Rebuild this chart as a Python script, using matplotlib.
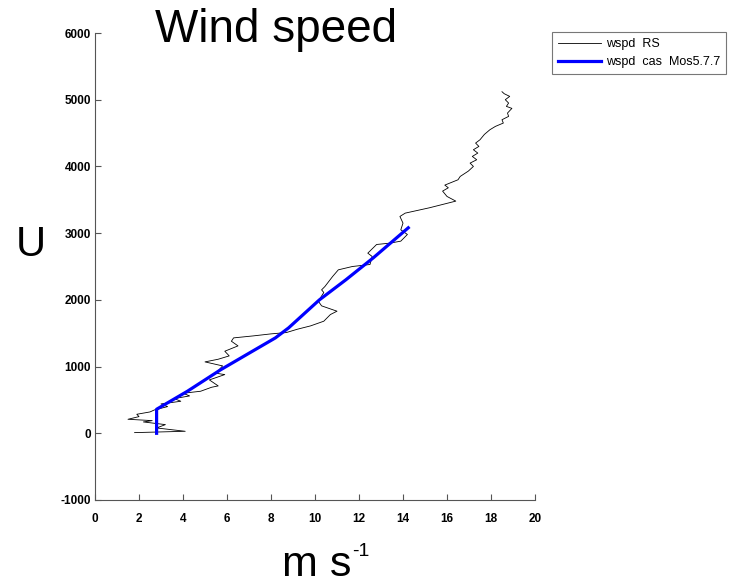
import matplotlib.pyplot as plt

plt.rcParams['font.family'] = ['Liberation Sans', 'DejaVu Sans']
plt.rcParams['axes.unicode_minus'] = False

# radiosonde profile: wind speed (m/s) vs height
rs_wspd = [1.8, 4.1, 2.8, 3.2, 2.2, 2.6, 1.5, 2.0, 1.9, 2.5,
           2.7, 3.3, 3.0, 3.9, 3.6, 4.3, 4.0, 4.8, 5.3, 5.6,
           5.2, 5.9, 5.5, 5.8, 5.0, 5.6, 6.1, 5.9, 6.5, 6.2,
           6.3, 7.2, 8.0, 8.7, 9.2, 9.8, 10.4, 10.7, 11.0, 10.3,
           10.15, 10.4, 10.3, 10.45, 10.8, 11.06, 11.7, 12.5, 12.6, 12.4,
           12.8, 13.4, 13.9, 14.2, 13.9, 14.0, 13.86, 14.1, 15.2, 16.4,
           16.0, 15.8, 16.06, 15.9, 16.2, 16.5, 16.6, 16.97, 17.2, 17.05,
           17.35, 17.15, 17.4, 17.2, 17.45, 17.3, 17.5, 17.7, 17.95, 18.2,
           18.56, 18.5, 18.8, 18.75, 18.95, 18.7, 18.8, 18.65, 18.85, 18.6,
           18.5]
rs_z = [10, 30, 80, 130, 170, 190, 210, 250, 285, 320,
        350, 400, 440, 480, 520, 560, 600, 630, 690, 710,
        800, 880, 900, 1010, 1070, 1110, 1160, 1230, 1310, 1380,
        1430, 1460, 1490, 1510, 1560, 1610, 1680, 1780, 1830, 1910,
        1980, 2110, 2150, 2200, 2350, 2450, 2500, 2530, 2650, 2700,
        2830, 2850, 2880, 2980, 3050, 3150, 3250, 3300, 3380, 3480,
        3550, 3630, 3680, 3720, 3760, 3800, 3850, 3930, 4000, 4050,
        4100, 4150, 4200, 4250, 4300, 4350, 4400, 4480, 4550, 4600,
        4650, 4700, 4750, 4800, 4870, 4900, 4950, 5000, 5050, 5090,
        5120]

# model profile
mod_wspd = [2.8, 2.8, 4.2, 5.7, 7.0, 8.2, 8.8, 10.2, 11.4, 12.65, 14.24]
mod_z = [0, 360, 630, 950, 1200, 1430, 1580, 2000, 2300, 2630, 3080]

W, H = 750, 584
fig = plt.figure(figsize=(7.5, 5.84), dpi=100)
ax = fig.add_axes([95 / W, 84 / H, 440 / W, 467 / H])

ax.plot(rs_wspd, rs_z, color='black', lw=0.6, label='wspd  RS')
ax.plot(mod_wspd, mod_z, color='#0000ff', lw=2.3, label='wspd  cas  Mos5.7.7')

ax.set_xlim(0, 20)
ax.set_ylim(-1000, 6000)
ax.set_xticks(range(0, 21, 2))
ax.set_yticks(range(-1000, 6001, 1000))
ax.tick_params(direction='in', length=4, labelsize=8.5, color='#555555', pad=3)
ax.tick_params(axis='x', pad=9)
for lbl in ax.get_xticklabels() + ax.get_yticklabels():
    lbl.set_fontweight('bold')
for s in ['top', 'right']:
    ax.spines[s].set_visible(False)
for s in ['left', 'bottom']:
    ax.spines[s].set_color('#555555')

# title / labels placed by hand like the original
fig.text(276 / W, 1 - 42 / H, 'Wind speed', fontsize=33, ha='center', va='baseline')
fig.text(31 / W, 1 - 245 / H, 'U', fontsize=30, ha='center', va='center')
fig.text(282 / W, 1 - 576 / H, 'm s', fontsize=31, ha='left', va='baseline')
fig.text(352 / W, 1 - 556 / H, '-1', fontsize=14, ha='left', va='baseline')

leg = fig.legend(loc='upper left', bbox_to_anchor=(552 / W, 1 - 32 / H),
                 fontsize=9, frameon=True, fancybox=False, borderaxespad=0,
                 handlelength=3.4, handletextpad=0.4, labelspacing=0.45,
                 borderpad=0.5)
leg.get_frame().set_edgecolor('#555555')
leg.get_frame().set_linewidth(0.8)

fig.savefig('out.png', dpi=100)
